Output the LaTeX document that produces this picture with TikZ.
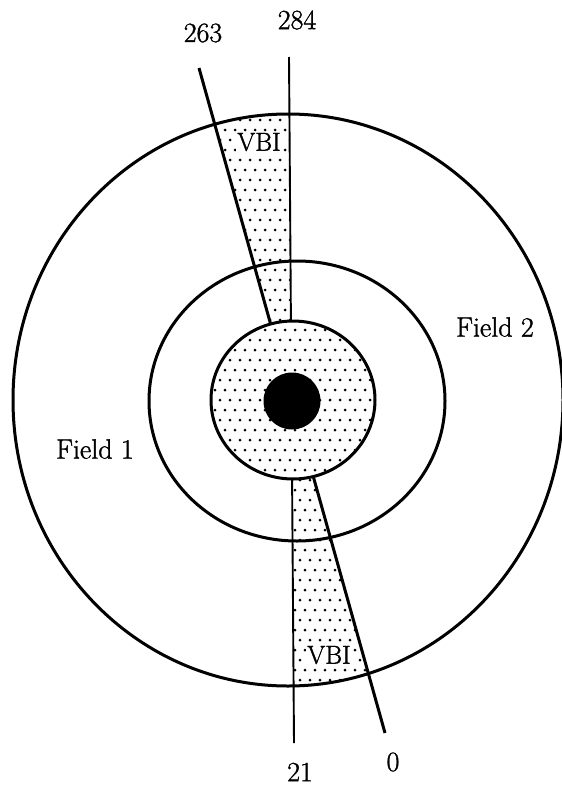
\documentclass[tikz,border=0pt]{standalone}
\usepackage{fontspec}
\setmainfont{Latin Modern Roman}[FakeBold=1.3]
\begin{document}
\newcommand\mydotgrid[4]{%
  \foreach \j in {#3,...,#4}{%
    \foreach \i in {#1,...,#2}{%
      \fill ({10*\i+5*mod(\j,2)},{10*\j}) circle[radius=1.5bp];
    }%
  }%
}
\begin{tikzpicture}[x=1bp,y=-1bp,
  ring/.style={line width=3bp},
  lbl/.style={font=\fontsize{28}{32}\selectfont, inner sep=0pt},
  vbilbl/.style={font=\fontsize{26}{30}\selectfont, fill=white, inner sep=1bp}]
\useasboundingbox (0,0) rectangle (562,788);
\fill[white] (0,0) rectangle (562,788);
\coordinate (C) at (291.7,400);
\coordinate (vtop) at (289,57);
\coordinate (vbot) at (294,743);
\coordinate (stop) at (199,68);
\coordinate (sbot) at (385,733);
% wedge dots
\begin{scope}
  \clip (288,400) ellipse [x radius=275, y radius=286];
  \clip (C) -- (stop) -- (vtop) -- cycle;
  \mydotgrid{19}{30}{10}{34}
\end{scope}
\begin{scope}
  \clip (288,400) ellipse [x radius=275, y radius=286];
  \clip (C) -- (vbot) -- (sbot) -- cycle;
  \mydotgrid{28}{39}{46}{70}
\end{scope}
% lines
\draw[line width=1.9bp] (vtop) -- (vbot);
\draw[line width=3bp] (stop) -- (sbot);
% rings
\draw[ring] (288,400) ellipse [x radius=275, y radius=286];
\draw[ring] (297,401) ellipse [x radius=148, y radius=140];
% inner disk
\fill[white] (293,400) ellipse [x radius=82, y radius=79];
\begin{scope}
  \clip (293,400) ellipse [x radius=82, y radius=79];
  \mydotgrid{20}{38}{31}{49}
\end{scope}
\draw[ring] (293,400) ellipse [x radius=82, y radius=79];
\fill (292,401) circle[radius=28.5bp];
% labels
\node[lbl] (l263) at (203,33) {263};
\node[lbl] (l284) at (297,20) {284};
\node[lbl] (l21) at (300,772) {21};
\node[lbl] (l0) at (393,762) {0};
\node[vbilbl] (vbi1) at (259,142) {VBI};
\node[vbilbl] (vbi2) at (329,655) {VBI};
\node[lbl] (f2) at (495,327) {Field 2};
\node[lbl] (f1) at (95,449) {Field 1};
\end{tikzpicture}
\end{document}
